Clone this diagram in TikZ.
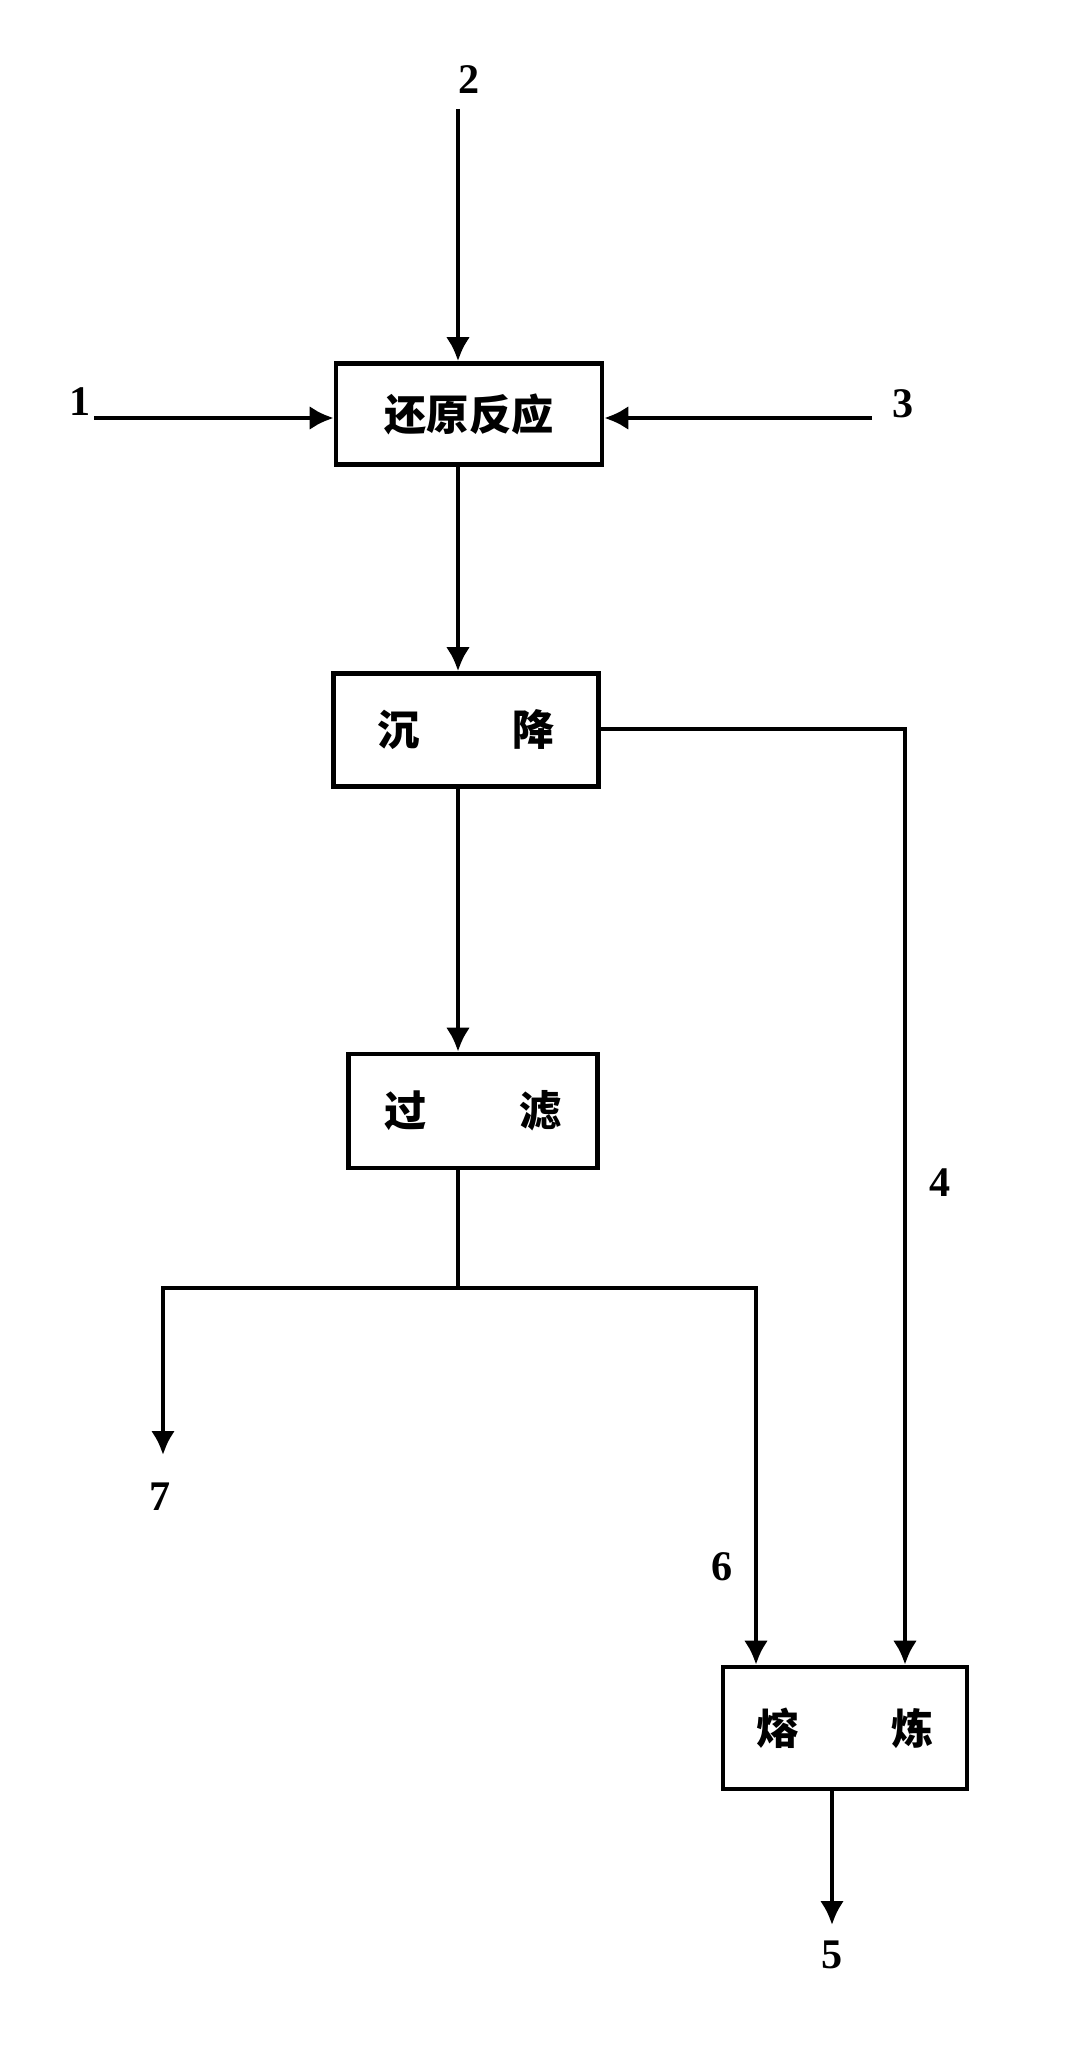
\documentclass[tikz,border=0pt]{standalone}
\usepackage{fontspec}
\setmainfont{Liberation Serif}
\newfontfamily\cjk{Noto Sans CJK SC}
\usetikzlibrary{arrows.meta,positioning}
\newcommand\gap{\hspace{2.2em}}

\begin{document}
\begin{tikzpicture}[x=0.1mm,y=-0.1mm,line width=1.3pt,
        flow/.style={-{Latex[length=2.4mm,width=2.4mm]}},
        num/.style={font=\bfseries\fontsize{12}{14}\selectfont}]%
        \useasboundingbox (0,0) rectangle (1078,2065);%%
        \begin{scope}[shape=rectangle,inner sep=0pt]
        \tikzset{every node/.style={draw,font=\cjk\bfseries\fontsize{12}{14}\selectfont}} %%
        \node[minimum width=2.66cm,minimum height=1.01cm] (bred) at (469,414) {还原反应\hspace{3.1mm}}; %%
        \node[minimum width=2.65cm,minimum height=1.13cm] (bsettle) at (466,730) {沉\gap 降\hspace{2.5mm}}; %%
        \node[minimum width=2.49cm,minimum height=1.14cm] (bfilter) at (473,1111) {过\gap 滤\hspace{1.3mm}}; %%
        \node[minimum width=2.44cm,minimum height=1.22cm] (bsmelt) at (845,1728) {熔\gap 炼}; %%
        \end{scope}
        \coordinate (p1) at (94,418); %%
        \coordinate (p2) at (458,109); %%
        \coordinate (p3) at (872,418); %%
        \coordinate (c4) at (905,729); %%
        \coordinate (split) at (458,1288); %%
        \coordinate (c7) at (163,1288); %%
        \coordinate (e7) at (163,1455); %%
        \coordinate (c6) at (756,1288); %%
        \coordinate (e5) at (832,1925); %%
        \node[num] (l1) at (80,402) {1}; %%
        \node[num] (l2) at (469,80) {2}; %%
        \node[num] (l3) at (903,404) {3}; %%
        \node[num] (l4) at (940,1183) {4}; %%
        \node[num] (l5) at (832,1955) {5}; %%
        \node[num] (l6) at (722,1567) {6}; %%
        \node[num] (l7) at (160,1497) {7}; %%
        \draw[flow] (p1)--(p1-|bred.west); %%
        \draw[flow] (p2)--(bred.north-|p2); %%
        \draw[flow] (p3)--(p3-|bred.east); %%
        \draw[flow] (bred.south-|p2)--(bsettle.north-|p2); %%
        \draw[flow] (bsettle.south-|p2)--(bfilter.north-|p2); %%
        \draw (bfilter.south-|p2)--(split); %%
        \draw[flow] (split)--(c7)--(e7); %%
        \draw[flow] (split)--(c6)--(c6|-bsmelt.north); %%
        \draw[flow] (bsettle.east|-c4)--(c4)--(c4|-bsmelt.north); %%
        \draw[flow] (bsmelt.south-|e5)--(e5); %%
\end{tikzpicture}
\end{document}
